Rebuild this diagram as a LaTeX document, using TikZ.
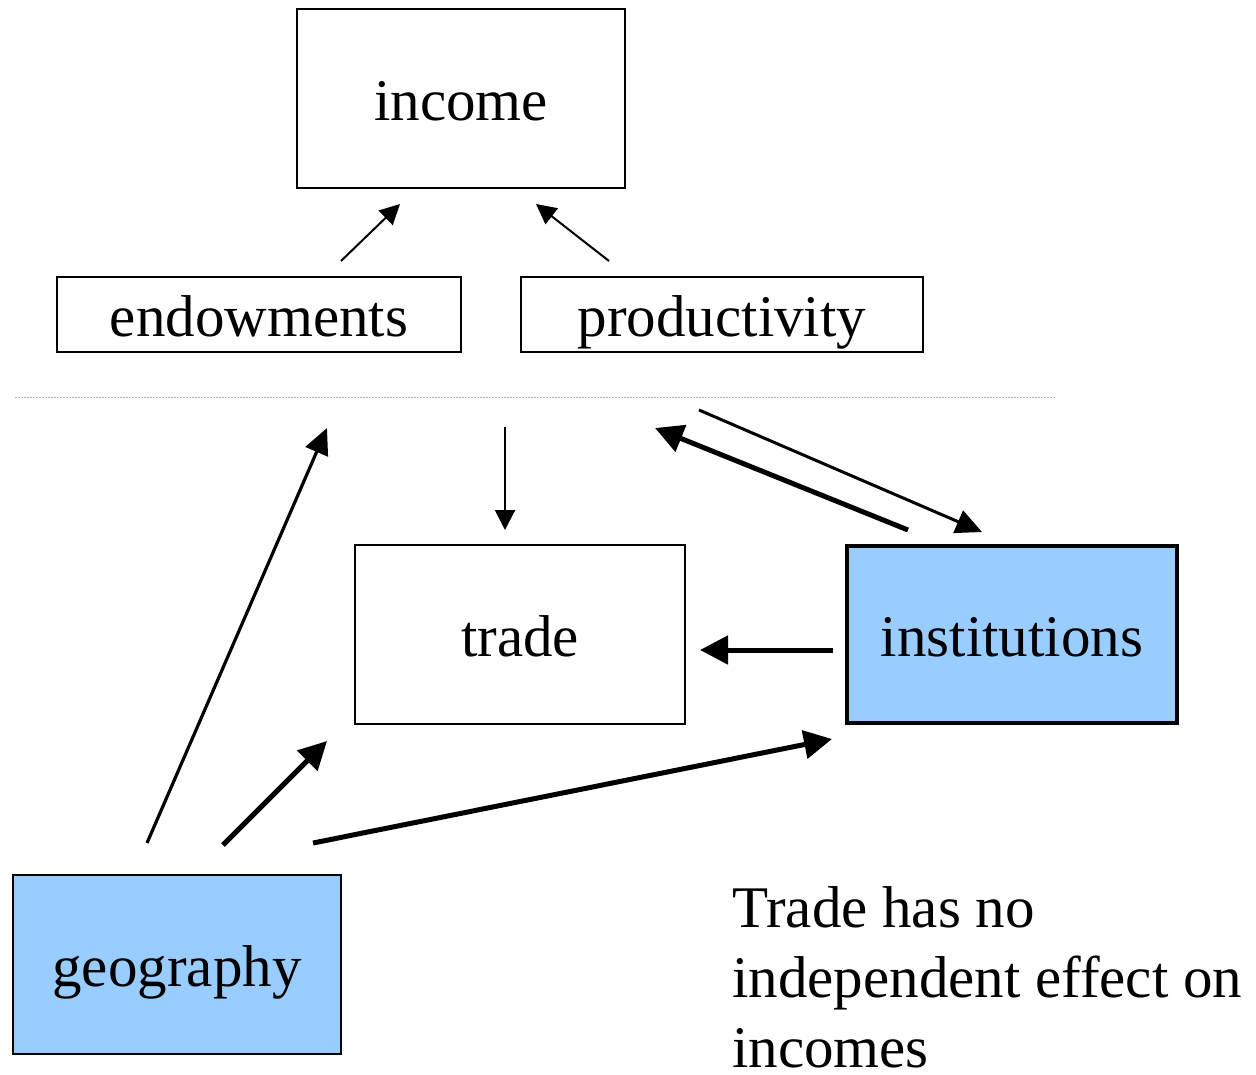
\documentclass[tikz,border=0pt]{standalone}
\usepackage{fontspec}
\setmainfont{Liberation Serif}
\usetikzlibrary{arrows.meta}
\definecolor{lblue}{HTML}{99CCFF}
\begin{document}
\begin{tikzpicture}[x=1pt,y=-1pt,
  box/.style={draw=black,line width=2pt,inner sep=0pt,text height=50pt,text depth=7pt,font=\fontsize{59}{70}\selectfont},
  thinarr/.style={line width=2pt,-{Triangle[length=20pt,width=20pt]}},
  medarr/.style={line width=3.2pt,-{Triangle[length=26pt,width=24pt]}},
  thickarr/.style={line width=5pt,-{Triangle[length=28pt,width=28pt]}}]
\useasboundingbox (0,0) rectangle (1256,1074);
% boxes
\node[box,minimum width=328pt,minimum height=179pt] (income) at (461,98.5) {income};
\node[box,minimum width=404pt,minimum height=75pt] (endow) at (259,314.5) {endowments};
\node[box,minimum width=402pt,minimum height=75pt] (prod) at (722,314.5) {productivity};
\node[box,minimum width=330pt,minimum height=179pt] (trade) at (520,634.5) {trade};
\node[box,line width=4.5pt,fill=lblue,minimum width=330pt,minimum height=177pt] (inst) at (1012,634.5) {institutions};
\node[box,fill=lblue,minimum width=328pt,minimum height=179pt] (geo) at (177,964.5) {geography};
% dotted separator
\coordinate (sepL) at (15,397);
\coordinate (sepR) at (1055,397);
\draw[gray!60,line width=0.8pt,dash pattern=on 2pt off 1pt] (sepL) -- (sepR);
% free arrow ends
\coordinate (a1s) at (341,261); \coordinate (a1e) at (400,204);
\coordinate (a2s) at (609,261); \coordinate (a2e) at (536,204);
\coordinate (a3s) at (505,427); \coordinate (a3e) at (505,530);
\coordinate (a4s) at (699,410); \coordinate (a4e) at (982,532);
\coordinate (a5s) at (908,530); \coordinate (a5e) at (655,428);
\coordinate (a6s) at (833,650); \coordinate (a6e) at (700,650);
\coordinate (a7s) at (147,843); \coordinate (a7e) at (327,428);
\coordinate (a8s) at (223,845); \coordinate (a8e) at (327,741);
\coordinate (a9s) at (313,843); \coordinate (a9e) at (832,739);
\draw[thinarr] (a1s) -- (a1e);
\draw[thinarr] (a2s) -- (a2e);
\draw[thinarr] (a3s) -- (a3e);
\draw[line width=3pt,-{Triangle[length=26pt,width=24pt]}] (a4s) -- (a4e);
\draw[thickarr] (a5s) -- (a5e);
\draw[thickarr] (a6s) -- (a6e);
\draw[medarr] (a7s) -- (a7e);
\draw[thickarr] (a8s) -- (a8e);
\draw[thickarr] (a9s) -- (a9e);
% note
\node[anchor=north west,inner sep=0pt,align=left,font=\fontsize{59}{70}\selectfont] (note) at (732,886) {Trade has no\\independent effect on\\incomes};
\end{tikzpicture}
\end{document}
